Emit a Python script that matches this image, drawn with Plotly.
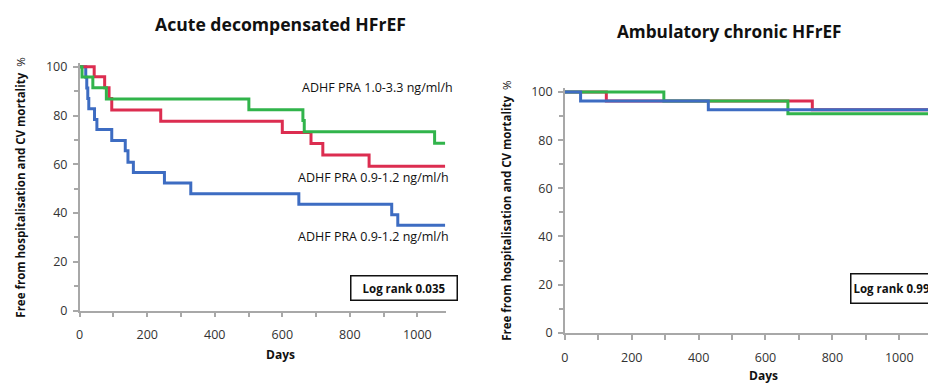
import plotly.graph_objects as go

# ---- Acute decompensated HFrEF: Kaplan-Meier steps (days, % event-free) ----
adhf_high_days = [0, 7, 39, 79, 501, 661, 665, 1051, 1082]
adhf_high_surv = [100, 95.8, 91.4, 86.8, 82.4, 78.0, 73.4, 68.6, 68.6]

adhf_mid_days = [0, 43, 74, 87, 95, 240, 600, 685, 720, 857, 1082]
adhf_mid_surv = [100, 95.9, 91.4, 87.0, 82.3, 77.7, 73.1, 68.5, 63.8, 59.2, 59.2]

adhf_low_days = [0, 18, 21, 24, 27, 44, 51, 95, 135, 143, 159, 251, 329, 649, 924, 942, 1082]
adhf_low_surv = [100, 95.7, 91.3, 87.0, 82.8, 78.4, 74.3, 69.8, 65.6, 60.9, 56.6,
                 52.3, 47.9, 43.6, 39.3, 35.0, 35.0]

# ---- Ambulatory chronic HFrEF ----
amb_red_days = [0, 124, 740, 1100]
amb_red_surv = [100, 96.3, 92.6, 92.6]

amb_green_days = [0, 296, 667, 1100]
amb_green_surv = [100, 96.3, 91.0, 91.0]

amb_blue_days = [0, 47, 429, 1100]
amb_blue_surv = [100, 96.3, 92.6, 92.6]

titles = ["Acute decompensated HFrEF", "Ambulatory chronic HFrEF"]
group_labels = ["ADHF PRA 1.0-3.3 ng/ml/h", "ADHF PRA 0.9-1.2 ng/ml/h", "ADHF PRA 0.9-1.2 ng/ml/h"]
log_rank = ["Log rank 0.035", "Log rank 0.99"]
y_title = "<b>Free from hospitalisation and CV mortality</b>  %"

GREEN = "#31b44b"
RED = "#dc2d50"
BLUE = "#3d6cc2"
AXIS = "#a8a8a8"
FONT = "Open Sans"

fig = go.Figure()


def km(x, y, color, xa, ya):
    fig.add_trace(go.Scatter(
        x=x, y=y, mode="lines", line=dict(color=color, width=3, shape="hv"),
        xaxis=xa, yaxis=ya, showlegend=False, hoverinfo="skip"))


# left panel (blue underneath, green on top)
km(adhf_low_days, adhf_low_surv, BLUE, "x", "y")
km(adhf_mid_days, adhf_mid_surv, RED, "x", "y")
km(adhf_high_days, adhf_high_surv, GREEN, "x", "y")

# right panel (red underneath, blue on top)
km(amb_red_days, amb_red_surv, RED, "x2", "y2")
km(amb_green_days, amb_green_surv, GREEN, "x2", "y2")
km(amb_blue_days, amb_blue_surv, BLUE, "x2", "y2")

W, H = 928, 392


def px(x):
    return x / W


def py(y):
    return 1 - y / H


tickfont = dict(family=FONT, size=12.5, color="#333333")


def xaxis_cfg(domain, rng, anchor):
    return dict(domain=domain, range=rng, anchor=anchor, showline=True, linecolor=AXIS,
                linewidth=1.5, ticks="outside", ticklen=5, tickwidth=1.5, tickcolor=AXIS,
                dtick=200, tick0=0, showgrid=False, zeroline=False, tickfont=tickfont,
                ticklabelstandoff=7,
                minor=dict(ticks="outside", ticklen=5, tickwidth=1.5, tickcolor=AXIS,
                           dtick=100, showgrid=False))


def yaxis_cfg(domain, anchor):
    return dict(domain=domain, range=[0, 101.5], anchor=anchor, showline=True, linecolor=AXIS,
                linewidth=1.5, ticks="outside", ticklen=5, tickwidth=1.5, tickcolor=AXIS,
                dtick=20, tick0=0, showgrid=False, zeroline=False, tickfont=tickfont,
                ticklabelstandoff=3,
                minor=dict(ticks="outside", ticklen=4, tickwidth=1.5, tickcolor=AXIS,
                           dtick=10, showgrid=False))


def note(x, y, text, size, **kw):
    base = dict(x=px(x), y=py(y), text=text, showarrow=False, xref="paper", yref="paper",
                xanchor="center", yanchor="middle",
                font=dict(family=FONT, size=size, color="#111"))
    base.update(kw)
    return base


annotations = [
    # panel titles
    note(278, 20, f"<b>{titles[0]}</b>", 17.6),
    note(729, 27, f"<b>{titles[1]}</b>", 17.2),
    # y-axis titles
    note(17, 189, y_title, 11.5, textangle=-90),
    note(505, 213, y_title, 11.5, textangle=-90),
    # x-axis titles
    note(278, 361, "<b>Days</b>", 12),
    note(763, 383, "<b>Days</b>", 12),
]

# group labels
for (xl, yc), txt in zip([(297, 85), (293, 178), (293, 239)], group_labels):
    annotations.append(note(xl, yc, txt, 12.5, xanchor="left"))

# log-rank boxes
annotations.append(note(401.5, 293, f"<b>{log_rank[0]}</b>", 11.5, width=101, height=19,
                        borderpad=2, bordercolor="#111", borderwidth=1.5, bgcolor="white"))
annotations.append(note(850, 293.5, f"<b>{log_rank[1]}</b>", 11.5, xanchor="left", align="left",
                        width=98, height=24, borderpad=2, bordercolor="#111",
                        borderwidth=1.5, bgcolor="white"))

fig.update_layout(
    width=W, height=H, margin=dict(l=0, r=0, t=0, b=0),
    paper_bgcolor="white", plot_bgcolor="white",
    xaxis=xaxis_cfg([px(76), px(444)], [0, 1085], "y"),
    yaxis=yaxis_cfg([py(316), py(60.2)], "x"),
    xaxis2=xaxis_cfg([px(563.3), 1.0], [0, 1086], "y2"),
    yaxis2=yaxis_cfg([py(339), py(86.3)], "x2"),
    annotations=annotations,
)

fig.write_html("out.html")
